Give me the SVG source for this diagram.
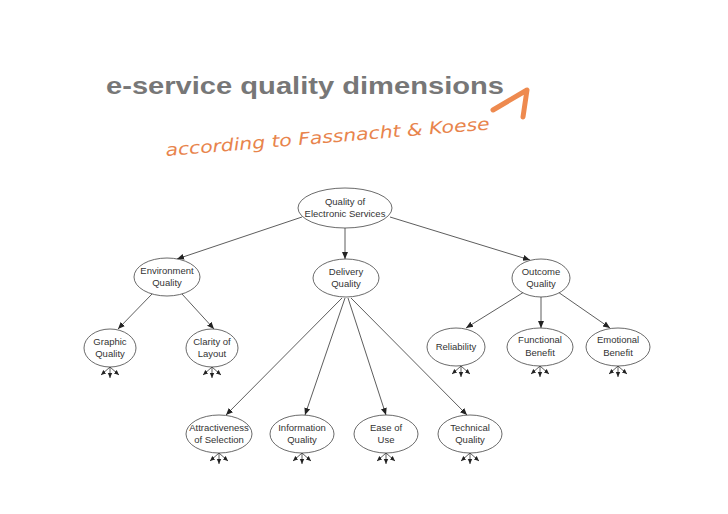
<svg xmlns="http://www.w3.org/2000/svg" width="728" height="514" viewBox="0 0 728 514">
<defs>
<marker id="ah" markerWidth="8" markerHeight="8" refX="7" refY="4" orient="auto" markerUnits="userSpaceOnUse">
<path d="M0,1 L7,4 L0,7 Z" fill="#222"/>
</marker>
<marker id="sh" markerWidth="6" markerHeight="6" refX="5" refY="3" orient="auto" markerUnits="userSpaceOnUse">
<path d="M0,0.8 L5,3 L0,5.2 Z" fill="#222"/>
</marker>
<style>
.n ellipse{fill:#fff;stroke:#444;stroke-width:0.8}
.n text{font-family:"Liberation Sans",Arial,sans-serif;font-size:9.5px;fill:#333;text-anchor:middle}
.c line{stroke:#333;stroke-width:0.8;marker-end:url(#ah)}
.st line{stroke:#333;stroke-width:0.8;marker-end:url(#sh)}
</style>
<g id="stub" class="st"><line x1="0" y1="0" x2="-9" y2="8"/><line x1="0" y1="0" x2="0" y2="11"/><line x1="0" y1="0" x2="9" y2="8"/></g>
</defs>
<rect width="728" height="514" fill="#fff"/>
<text x="106" y="94" font-family="'Liberation Sans',Arial,sans-serif" font-weight="bold" font-size="24" fill="#777" textLength="398" lengthAdjust="spacingAndGlyphs">e-service quality dimensions</text>
<text x="166" y="156" transform="rotate(-4.7 166 156)" font-family="'DejaVu Sans','Liberation Sans',sans-serif" font-weight="200" font-style="italic" font-size="17" fill="#e8844c" textLength="325" lengthAdjust="spacingAndGlyphs">according to Fassnacht &amp; Koese</text>
<path d="M493,110 L527,90 L523,117" fill="none" stroke="#ee8a4f" stroke-width="5" stroke-linecap="round" stroke-linejoin="round"/>

<g class="c">
<line x1="302" y1="217" x2="177" y2="259"/>
<line x1="345" y1="228" x2="345" y2="259"/>
<line x1="390" y1="217" x2="530" y2="260"/>
<line x1="152" y1="294" x2="118" y2="329"/>
<line x1="182" y1="294" x2="214" y2="329"/>
<line x1="342" y1="298" x2="226" y2="415"/>
<line x1="345" y1="298" x2="305" y2="415"/>
<line x1="348" y1="298" x2="386" y2="415"/>
<line x1="351" y1="298" x2="467" y2="415"/>
<line x1="524" y1="292" x2="466" y2="328"/>
<line x1="541" y1="297" x2="541" y2="328"/>
<line x1="558" y1="292" x2="610" y2="328"/>
</g>

<g id="stubs">
<use href="#stub" x="110" y="367"/>
<use href="#stub" x="212" y="367"/>
<use href="#stub" x="461" y="366"/>
<use href="#stub" x="540" y="366"/>
<use href="#stub" x="618" y="366"/>
<use href="#stub" x="219" y="453"/>
<use href="#stub" x="302" y="453"/>
<use href="#stub" x="386" y="453"/>
<use href="#stub" x="470" y="453"/>
</g>

<g id="root" class="n"><ellipse cx="345" cy="208" rx="47" ry="20"/><text x="345" y="205">Quality of</text><text x="345" y="217">Electronic Services</text></g>
<g id="env" class="n"><ellipse cx="167" cy="277" rx="33" ry="19"/><text x="167" y="274">Environment</text><text x="167" y="286">Quality</text></g>
<g id="del" class="n"><ellipse cx="346" cy="278" rx="33" ry="19"/><text x="346" y="275">Delivery</text><text x="346" y="287">Quality</text></g>
<g id="out" class="n"><ellipse cx="541" cy="278" rx="29" ry="19"/><text x="541" y="275">Outcome</text><text x="541" y="287">Quality</text></g>
<g id="graphic" class="n"><ellipse cx="110" cy="348" rx="26" ry="19"/><text x="110" y="345">Graphic</text><text x="110" y="357">Quality</text></g>
<g id="clarity" class="n"><ellipse cx="212" cy="348" rx="26" ry="19"/><text x="212" y="345">Clarity of</text><text x="212" y="357">Layout</text></g>
<g id="rel" class="n"><ellipse cx="456" cy="347" rx="29" ry="19"/><text x="456" y="350">Reliability</text></g>
<g id="func" class="n"><ellipse cx="540" cy="347" rx="33" ry="19"/><text x="540" y="343">Functional</text><text x="540" y="356">Benefit</text></g>
<g id="emo" class="n"><ellipse cx="618" cy="347" rx="32" ry="19"/><text x="618" y="343">Emotional</text><text x="618" y="356">Benefit</text></g>
<g id="attr" class="n"><ellipse cx="219" cy="434" rx="33" ry="19"/><text x="219" y="431">Attractiveness</text><text x="219" y="443">of Selection</text></g>
<g id="info" class="n"><ellipse cx="302" cy="434" rx="32" ry="19"/><text x="302" y="431">Information</text><text x="302" y="443">Quality</text></g>
<g id="ease" class="n"><ellipse cx="386" cy="434" rx="32" ry="19"/><text x="386" y="431">Ease of</text><text x="386" y="443">Use</text></g>
<g id="tech" class="n"><ellipse cx="470" cy="434" rx="32" ry="19"/><text x="470" y="431">Technical</text><text x="470" y="443">Quality</text></g>
</svg>
